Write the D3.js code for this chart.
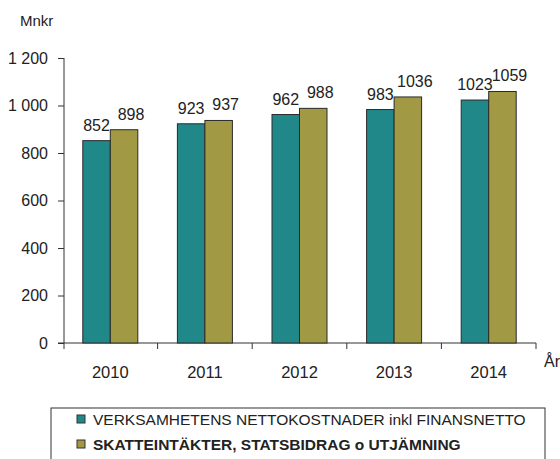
<!DOCTYPE html>
<html lang="sv">
<head>
  <meta charset="UTF-8">
  <title>Nettokostnader och skatteintäkter 2010–2014</title>
  <script src="https://cdn.jsdelivr.net/npm/d3@7/dist/d3.min.js"></script>
  <style>
    body { margin: 0; background: #fff; font-family: "Liberation Sans", Arial, sans-serif; }
    .tick text { font-size: 16px; fill: #222; font-family: "Liberation Sans", Arial, sans-serif; }
    .domain, .tick line { stroke: #333; }
    .val { font-size: 16px; fill: #222; text-anchor: middle; }
    .leg { font-size: 15.5px; fill: #222; }
  </style>
</head>
<body>
<script>
  const years = ["2010", "2011", "2012", "2013", "2014"];
  const seriesNames = ["VERKSAMHETENS NETTOKOSTNADER inkl FINANSNETTO",
                       "SKATTEINTÄKTER, STATSBIDRAG o UTJÄMNING"];
  const costs    = [852, 923, 962, 983, 1023];
  const revenues = [898, 937, 988, 1036, 1059];
  const yTicks = [0, 200, 400, 600, 800, 1000, 1200];
  const colors = ["#21888a", "#a29945"];

  const W = 560, H = 459;
  const svg = d3.select("body").append("svg")
    .attr("width", W).attr("height", H);

  const x = d3.scaleBand().domain(years).range([63, 536]);
  const x1 = d3.scaleBand().domain([0, 1]).range([0, x.bandwidth()]).paddingOuter(0.72);
  const y = d3.scaleLinear().domain([0, 1200]).range([343, 58]);

  const fmt = d3.formatLocale({ decimal: ",", thousands: "\u00a0", grouping: [3], currency: ["", " kr"] }).format(",d");

  // y axis
  svg.append("g")
    .attr("transform", "translate(64,0)")
    .call(d3.axisLeft(y).tickValues(yTicks).tickSize(6).tickPadding(10).tickFormat(fmt))
    .call(g => g.select(".domain").attr("d", `M0,${y(1200)}V${y(0) + 6}`));

  // x axis line + band boundary ticks
  const xa = svg.append("g");
  xa.append("line")
    .attr("x1", 58).attr("x2", x.range()[1])
    .attr("y1", y(0)).attr("y2", y(0))
    .attr("stroke", "#333");
  const bounds = years.map(d => x(d)).concat([x(years[years.length - 1]) + x.bandwidth()]);
  xa.selectAll("line.bt").data(bounds.slice(1)).enter().append("line")
    .attr("class", "bt")
    .attr("x1", d => d).attr("x2", d => d)
    .attr("y1", y(0)).attr("y2", y(0) + 6)
    .attr("stroke", "#333");
  xa.selectAll("text").data(years).enter().append("text")
    .attr("x", d => x(d) + x.bandwidth() / 2)
    .attr("y", 378)
    .attr("text-anchor", "middle")
    .style("font-size", "16.5px").style("fill", "#222")
    .text(d => d);

  svg.append("text").attr("x", 544).attr("y", 367)
    .style("font-size", "16px").style("fill", "#222").text("År");
  svg.append("text").attr("x", 20).attr("y", 26)
    .style("font-size", "15px").style("fill", "#222").text("Mnkr");

  // bars
  const rows = years.map((yr, i) => ({ year: yr, vals: [costs[i], revenues[i]] }));
  const grp = svg.selectAll("g.yr").data(rows).enter().append("g")
    .attr("class", "yr")
    .attr("transform", d => `translate(${x(d.year)},0)`);

  grp.selectAll("rect").data(d => d.vals.map((v, k) => ({ v, k }))).enter().append("rect")
    .attr("x", d => x1(d.k))
    .attr("width", x1.bandwidth())
    .attr("y", d => y(d.v))
    .attr("height", d => y(0) - y(d.v))
    .attr("fill", d => colors[d.k])
    .attr("stroke", "#2a2a2a")
    .attr("stroke-width", 1);

  grp.selectAll("text").data(d => d.vals.map((v, k) => ({ v, k }))).enter().append("text")
    .attr("class", "val")
    .attr("x", d => x1(d.k) + x1.bandwidth() / 2 + (d.k === 1 ? 7 : 0))
    .attr("y", d => y(d.v) - 10)
    .text(d => d.v);

  // legend
  const leg = svg.append("g");
  leg.append("rect")
    .attr("x", 51).attr("y", 408).attr("width", 494).attr("height", 70)
    .attr("fill", "none").attr("stroke", "#333");
  const li = leg.selectAll("g.li").data(seriesNames).enter().append("g")
    .attr("class", "li")
    .attr("transform", (d, i) => `translate(77,${425 + i * 25})`);
  li.append("rect")
    .attr("x", 0).attr("y", -10).attr("width", 8).attr("height", 8)
    .attr("fill", (d, i) => colors[i]).attr("stroke", "#333");
  li.append("text")
    .attr("class", "leg")
    .attr("x", 16).attr("y", 0)
    .style("font-weight", (d, i) => i === 1 ? "bold" : "normal")
    .text(d => d);
</script>
</body>
</html>
